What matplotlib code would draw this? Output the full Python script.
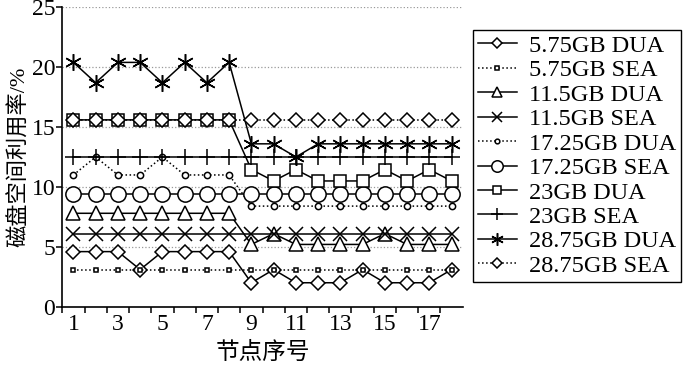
import numpy as np
import matplotlib
matplotlib.use('Agg')
import matplotlib.pyplot as plt
from matplotlib.ticker import MultipleLocator, FixedLocator

plt.rcParams['font.family'] = ['Liberation Serif', 'Noto Sans CJK SC']

nodes = np.arange(1, 19)

dua_575 = [4.6, 4.6, 4.6, 3.1, 4.6, 4.6, 4.6, 4.6, 2.0, 3.1, 2.0, 2.0, 2.0, 3.1, 2.0, 2.0, 2.0, 3.1]
sea_575 = [3.1] * 18
dua_115 = [7.8] * 8 + [5.2, 6.1, 5.2, 5.2, 5.2, 5.2, 6.1, 5.2, 5.2, 5.2]
sea_115 = [6.1] * 18
dua_1725 = [11.0, 12.5, 11.0, 11.0, 12.5, 11.0, 11.0, 11.0] + [8.4] * 10
sea_1725 = [9.45] * 18
dua_23 = [15.6] * 8 + [11.45, 10.5, 11.45, 10.5, 10.5, 10.5, 11.45, 10.5, 11.45, 10.5]
sea_23 = [12.5] * 18
dua_2875 = [20.4, 18.7, 20.4, 20.4, 18.7, 20.4, 18.7, 20.4, 13.6, 13.6, 12.5, 13.6, 13.6, 13.6, 13.6, 13.6, 13.6, 13.6]
sea_2875 = [15.6] * 18

labels = ['5.75GB DUA', '5.75GB SEA', '11.5GB DUA', '11.5GB SEA', '17.25GB DUA',
          '17.25GB SEA', '23GB DUA', '23GB SEA', '28.75GB DUA', '28.75GB SEA']
series = [dua_575, sea_575, dua_115, sea_115, dua_1725, sea_1725, dua_23, sea_23, dua_2875, sea_2875]

# marker, markersize, linestyle
styles = [('D', 7, '-'), ('s', 3, ':'), ('^', 10, '-'), ('x', 10, '-'), ('o', 4.5, ':'),
          ('o', 11, '-'), ('s', 8, '-'), ('+', 11, '-'), ((6, 2, 0), 12, '-'), ('D', 7, ':')]

fig = plt.figure(figsize=(7, 3.67), dpi=100)
ax = fig.add_axes([0.089, 0.1643, 0.572, 0.8158])

for y in [5, 10, 15, 20, 25]:
    ax.axhline(y, color='#999999', linestyle=':', linewidth=0.9, zorder=0)

for vals, lab, (mk, ms, ls) in zip(series, labels, styles):
    ax.plot(nodes, vals, color='black', linewidth=1.1, linestyle=ls, marker=mk,
            markersize=ms, markerfacecolor='white', markeredgecolor='black',
            markeredgewidth=1.1, label=lab, clip_on=False)

ax.set_xlim(0.5, 18.5)
ax.set_ylim(0, 25)
ax.spines['top'].set_visible(False)
ax.spines['right'].set_visible(False)
ax.spines['left'].set_linewidth(1.2)
ax.spines['bottom'].set_linewidth(1.2)

ax.xaxis.set_major_locator(FixedLocator(list(range(1, 19, 2))))
ax.xaxis.set_minor_locator(FixedLocator(list(np.arange(0.5, 18.5, 1.0))))
ax.tick_params(axis='x', which='major', length=0, labelsize=17, pad=5)
ax.tick_params(axis='x', which='minor', length=4, width=1.1, direction='out')
ax.yaxis.set_major_locator(MultipleLocator(5))
ax.tick_params(axis='y', which='major', length=4, width=1.1, direction='out', labelsize=17, pad=1)

ax.set_xlabel('节点序号', fontsize=17, labelpad=5)
ax.set_ylabel('磁盘空间利用率/%', fontsize=16, labelpad=1)

leg = fig.legend(loc='upper left', bbox_to_anchor=(473 / 700, 1 - 30 / 367), fontsize=17.5,
                 frameon=True, fancybox=False, edgecolor='black', framealpha=1,
                 handlelength=1.6, labelspacing=0.1, borderpad=0.2, handletextpad=0.5,
                 borderaxespad=0, markerscale=0.75)
leg.get_frame().set_linewidth(1.0)

plt.savefig('out.png', dpi=100)
